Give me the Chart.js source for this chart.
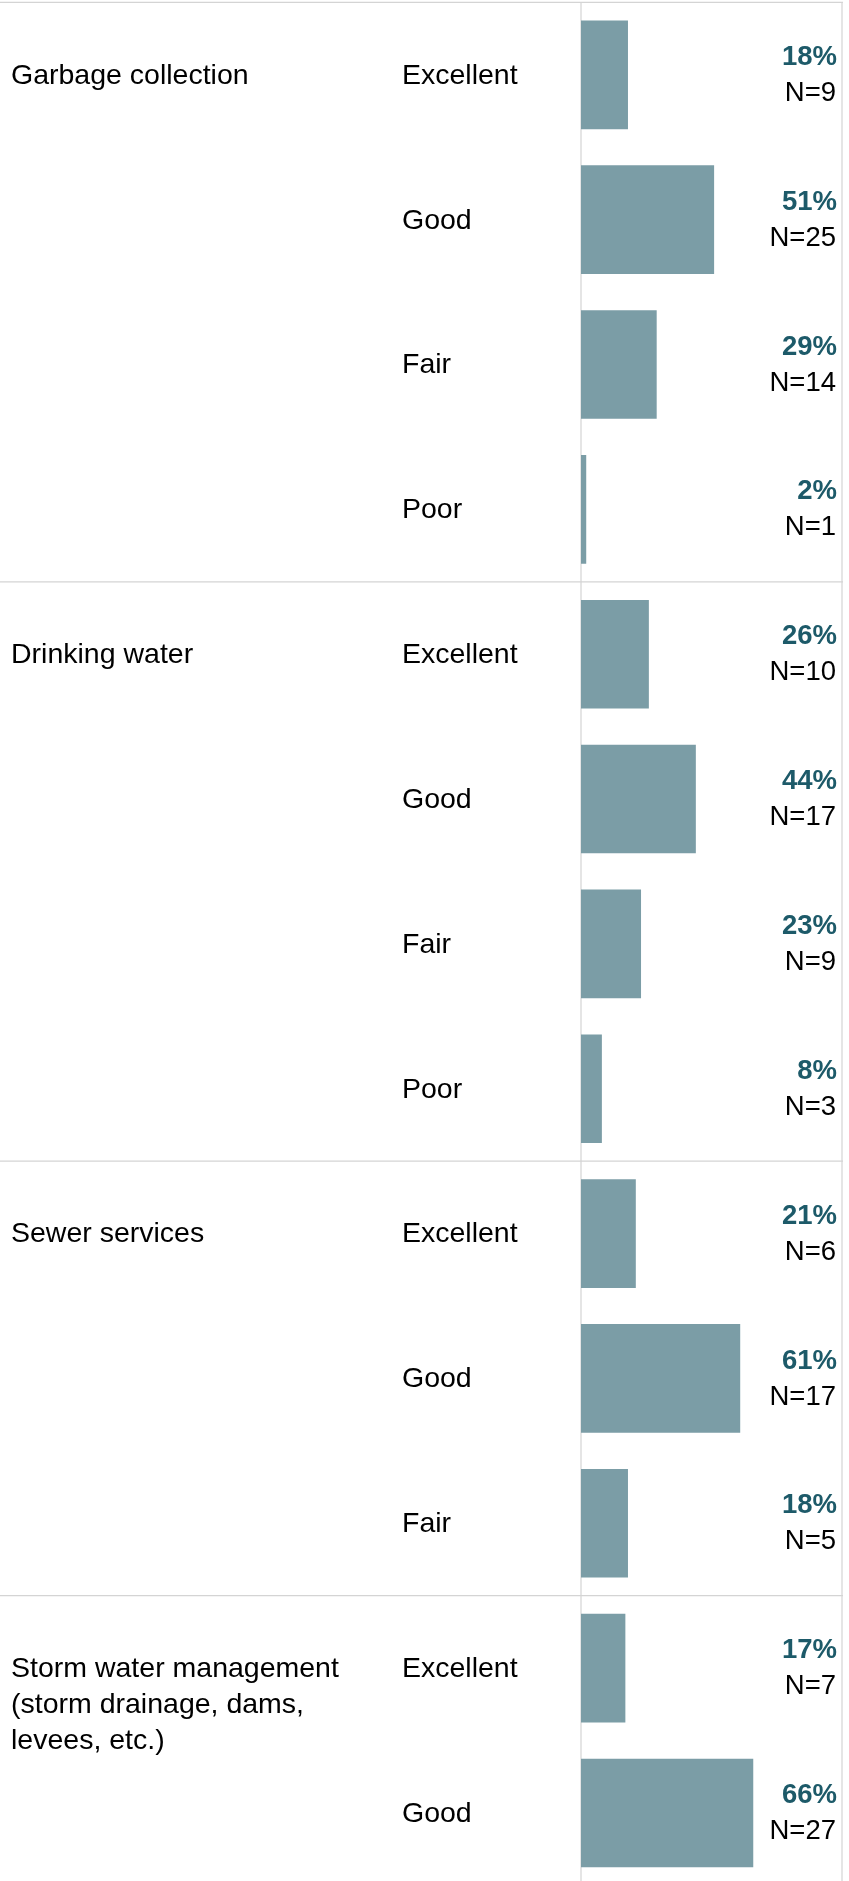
<!DOCTYPE html>
<html>
<head>
<meta charset="utf-8">
<script src="https://cdn.jsdelivr.net/npm/chart.js@4.4.1/dist/chart.umd.min.js"></script>
<style>
  html, body { margin: 0; padding: 0; background: #ffffff; overflow: hidden; }
  canvas { display: block; }
</style>
</head>
<body>
<canvas id="c" width="849" height="1892"></canvas>
<script>
// ---- Data ----
const groupNames = [
  ["Garbage collection"],
  ["Drinking water"],
  ["Sewer services"],
  ["Storm water management", "(storm drainage, dams,", "levees, etc."+")"]
];
const groupSizes = [4, 4, 3, 2];
const ratingLabels = [
  "Excellent", "Good", "Fair", "Poor",
  "Excellent", "Good", "Fair", "Poor",
  "Excellent", "Good", "Fair",
  "Excellent", "Good"
];
const percentValues = [18, 51, 29, 2, 26, 44, 23, 8, 21, 61, 18, 17, 66];
const countValues   = [9, 25, 14, 1, 10, 17, 9, 3, 6, 17, 5, 7, 27];

const rowKeys = ratingLabels.map((r, i) => i + ":" + r);

const BAR_COLOR = "rgb(123,157,166)";
const PCT_COLOR = "#1d5a69";
const LINE_COLOR = "#d4d4d4";
const FONT = "'Liberation Sans', Arial, Helvetica, sans-serif";

const tablePlugin = {
  id: "tablePlugin",
  beforeDatasetsDraw(chart) {
    const ctx = chart.ctx;
    const area = chart.chartArea;
    const y = chart.scales.y;
    const rowH = (area.bottom - area.top) / ratingLabels.length;
    ctx.save();
    ctx.strokeStyle = LINE_COLOR;
    ctx.lineWidth = 1.2;
    ctx.beginPath();
    ctx.moveTo(0, area.top);
    ctx.lineTo(area.right + 1, area.top);
    ctx.stroke();
    let idx = 0;
    for (let g = 0; g < groupSizes.length - 1; g++) {
      idx += groupSizes[g];
      const yy = y.getPixelForValue(idx) - rowH / 2;
      ctx.beginPath();
      ctx.moveTo(0, yy);
      ctx.lineTo(area.right + 1, yy);
      ctx.stroke();
    }
    ctx.beginPath();
    ctx.moveTo(area.left, area.top);
    ctx.lineTo(area.left, chart.height);
    ctx.moveTo(area.right, area.top);
    ctx.lineTo(area.right, chart.height);
    ctx.stroke();
    ctx.restore();
  },
  afterDatasetsDraw(chart) {
    const ctx = chart.ctx;
    const y = chart.scales.y;
    const area = chart.chartArea;
    ctx.save();
    ctx.textBaseline = "middle";
    ctx.fillStyle = "#000";
    ctx.font = "28.5px " + FONT;
    ctx.textAlign = "left";
    let start = 0;
    groupNames.forEach((lines, g) => {
      const cy = y.getPixelForValue(start);
      lines.forEach((ln, k) => ctx.fillText(ln, 11, cy + 1 + k * 36));
      start += groupSizes[g];
    });
    ratingLabels.forEach((r, i) => {
      ctx.fillText(r, 402, y.getPixelForValue(i) + 1);
    });
    const meta = chart.getDatasetMeta(0);
    ctx.textAlign = "right";
    meta.data.forEach((bar, i) => {
      ctx.font = "bold 27.5px " + FONT;
      ctx.fillStyle = PCT_COLOR;
      ctx.fillText(percentValues[i] + "%", area.right - 5, bar.y - 17.5);
      ctx.font = "27.5px " + FONT;
      ctx.fillStyle = "#000";
      ctx.fillText("N=" + countValues[i], area.right - 6, bar.y + 18.5);
    });
    ctx.restore();
  }
};

new Chart(document.getElementById("c"), {
  type: "bar",
  data: {
    labels: rowKeys,
    datasets: [{
      data: percentValues,
      backgroundColor: BAR_COLOR,
      borderWidth: 0,
      barPercentage: 0.75,
      categoryPercentage: 1.0
    }]
  },
  options: {
    indexAxis: "y",
    responsive: false,
    animation: false,
    devicePixelRatio: 1,
    layout: { padding: { left: 581, right: 7, top: 2.4, bottom: 6.6 } },
    plugins: { legend: { display: false }, tooltip: { enabled: false } },
    scales: {
      x: { display: false, min: 0, max: 100 },
      y: { display: false }
    }
  },
  plugins: [tablePlugin]
});
</script>
</body>
</html>
